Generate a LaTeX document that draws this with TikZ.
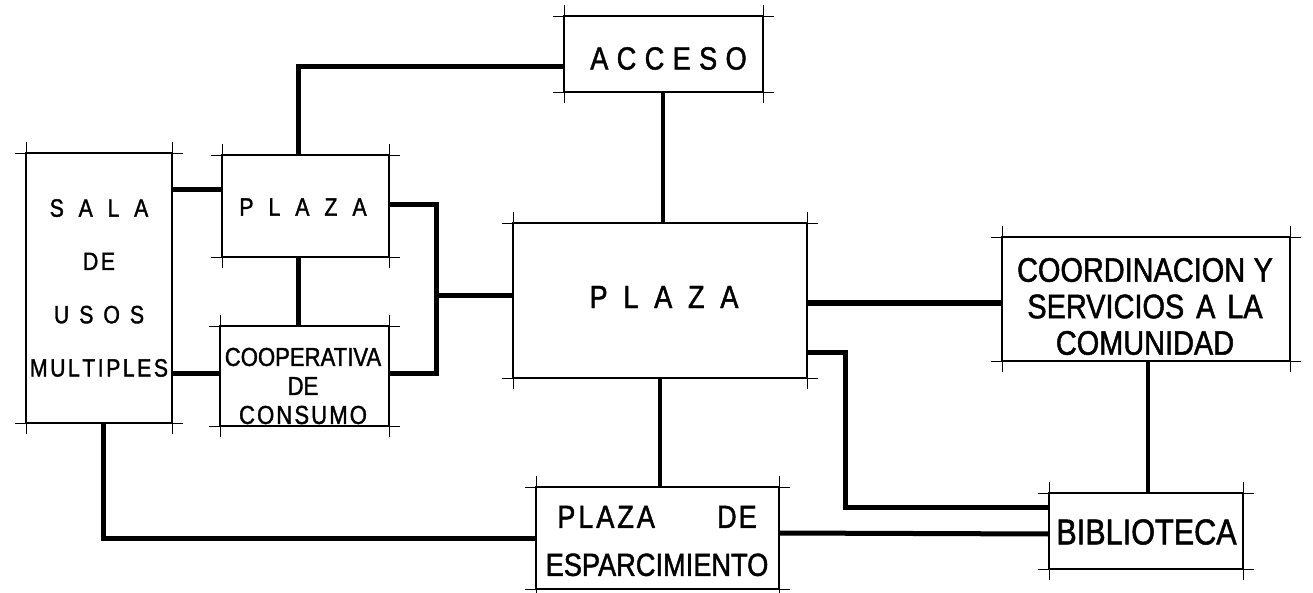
\documentclass[tikz,border=0pt]{standalone}
\usepackage{fontspec}
\setmainfont{Liberation Sans}
\newfontfamily\lett[FakeStretch=0.85,FakeBold=1.4]{Liberation Sans}
\newcommand\lk[1][0.45em]{\kern#1}
\tikzset{
  bx/.style={draw, line width=2.4pt, rectangle, inner sep=0pt, outer sep=0pt},
  ext/.style={line width=0.7pt},
  conn/.style={line width=5pt, line join=miter},
  txt/.style={inner sep=0pt, align=center}
}
\begin{document}
\begin{tikzpicture}[x=1pt,y=-1pt]
\useasboundingbox[fill=white] (0,0) rectangle (1313,593);
% boxes
\node[bx, minimum width=199pt, minimum height=76pt]  (acceso) at (663.5,54) {};
\node[bx, minimum width=146pt, minimum height=270pt] (sala)   at (99,288) {};
\node[bx, minimum width=167pt, minimum height=102pt] (ps)     at (305.5,206) {};
\node[bx, minimum width=169pt, minimum height=100pt] (coop)   at (304.5,376) {};
\node[bx, minimum width=294pt, minimum height=155pt] (pb)     at (660,300.5) {};
\node[bx, minimum width=288pt, minimum height=124pt] (coord)  at (1146,299) {};
\node[bx, minimum width=194pt, minimum height=76pt]  (bib)    at (1146,531) {};
\node[bx, minimum width=243pt, minimum height=102pt] (esp)    at (657.5,538) {};
% drafting extension lines
\foreach \n in {acceso,sala,ps,coop,pb,coord,bib,esp}{
  \draw[ext] ([xshift=-11pt]\n.north west) -- ([xshift=11pt]\n.north east);
  \draw[ext] ([xshift=-11pt]\n.south west) -- ([xshift=11pt]\n.south east);
  \draw[ext] ([yshift=11pt]\n.north west) -- ([yshift=-11pt]\n.south west);
  \draw[ext] ([yshift=11pt]\n.north east) -- ([yshift=-11pt]\n.south east);
}
% texts
\node[txt, font=\lett\fontsize{32}{38}\selectfont] (acceso-t) at (668.5,58.5)
  {A\lk[0.26em]C\lk[0.26em]C\lk[0.26em]E\lk[0.26em]S\lk[0.26em]O};
\node[txt, font=\lett\fontsize{25}{53.3}\selectfont] (sala-t) at (99,288)
  {S\lk[0.59em]A\lk[0.59em]L\lk[0.59em]A\\ D\lk[0.1em]E\\ U\lk[0.4em]S\lk[0.4em]O\lk[0.4em]S\\ M\lk[0.1em]U\lk[0.1em]L\lk[0.1em]T\lk[0.1em]I\lk[0.1em]P\lk[0.1em]L\lk[0.1em]E\lk[0.1em]S};
\node[txt, font=\lett\fontsize{25}{30}\selectfont] (ps-t) at (303,207)
  {P\lk[0.6em]L\lk[0.6em]A\lk[0.6em]Z\lk[0.6em]A};
\node[txt, font=\lett\fontsize{26}{29}\selectfont] (coop-t) at (303,386)
  {COOPERATIVA\\ DE\\ C\lk[0.08em]O\lk[0.08em]N\lk[0.08em]S\lk[0.08em]U\lk[0.08em]M\lk[0.08em]O};
\node[txt, font=\lett\fontsize{32}{38}\selectfont] (pb-t) at (664,297)
  {P\lk[0.49em]L\lk[0.49em]A\lk[0.49em]Z\lk[0.49em]A};
\node[txt, font=\lett\fontsize{34}{36.5}\selectfont] (coord-t) at (1145,306.5)
  {COORDINACION\hspace{0.25em}Y\\ SERVICIOS\hspace{0.35em}A\hspace{0.35em}LA\\ COMUNIDAD};
\node[txt, font=\lett\fontsize{36}{40}\selectfont] (bib-t) at (1146.5,532) {BIBLIOTECA};
\node[txt, font=\lett\fontsize{32}{48}\selectfont] (esp-t) at (657,541)
  {P\lk[0.09em]L\lk[0.09em]A\lk[0.09em]Z\lk[0.09em]A\hspace{1.94em}D\lk[0.06em]E\\ ESPARCIMIENTO};
% connectors
\draw[conn] (sala.east |- 0,190) -- (ps.west |- 0,190);
\draw[conn] (sala.east |- 0,373) -- (coop.west |- 0,373);
\draw[conn] (298,0 |- ps.north) -- (298,67) -- (acceso.west |- 0,67);
\draw[conn] (298,0 |- ps.south) -- (298,0 |- coop.north);
\draw[conn] (ps.east |- 0,205) -- (436,205) -- (436,373) -- (coop.east |- 0,373);
\draw[conn] (436,296) -- (pb.west |- 0,296);
\draw[conn, line width=4pt] (663,0 |- acceso.south) -- (663,0 |- pb.north);
\draw[conn, line width=4pt] (660,0 |- pb.south) -- (660,0 |- esp.north);
\draw[conn] (pb.east |- 0,303) -- (coord.west |- 0,303);
\draw[conn] (pb.east |- 0,352) -- (845,352) -- (845,507) -- (bib.west |- 0,507);
\draw[conn] (esp.east |- 0,533) -- (bib.west |- 0,534);
\draw[conn, line width=3.5pt] (1148,0 |- coord.south) -- (1148,0 |- bib.north);
\draw[conn] (103,0 |- sala.south) -- (103,538) -- (esp.west |- 0,538);
\end{tikzpicture}
\end{document}
